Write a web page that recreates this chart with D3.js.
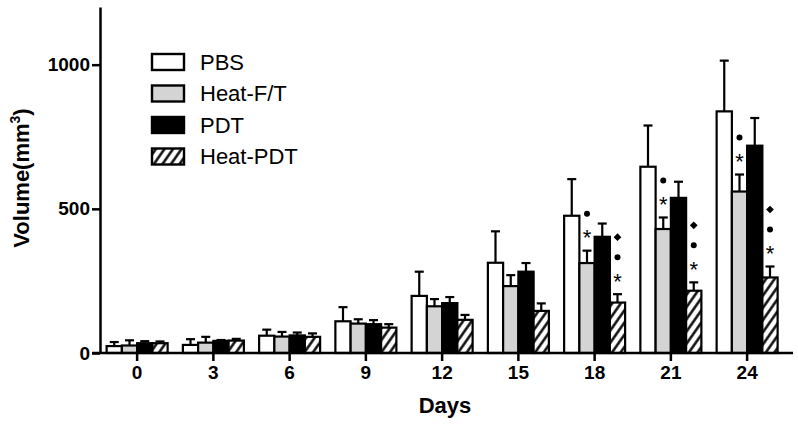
<!DOCTYPE html>
<html>
<head>
<meta charset="utf-8">
<script src="https://cdn.jsdelivr.net/npm/d3@7"></script>
<style>
  body { margin: 0; background: #fff; }
  svg { display: block; font-family: "Liberation Sans", Arial, sans-serif; }
</style>
</head>
<body>
<div id="chart"></div>
<script>
// data
const days = [0, 3, 6, 9, 12, 15, 18, 21, 24];
const seriesNames = ['PBS', 'Heat-F/T', 'PDT', 'Heat-PDT'];

const pbs = [24, 28, 60, 110, 198, 313, 476, 646, 838];
const pbsSem = [14, 20, 21, 49, 84, 109, 127, 143, 176];
const heatFT = [26, 36, 57, 102, 162, 232, 312, 430, 560];
const heatFTSem = [18, 20, 16, 15, 25, 38, 43, 40, 59];
const pdt = [34, 42, 61, 100, 173, 282, 403, 538, 719];
const pdtSem = [7, 3, 10, 14, 21, 30, 46, 56, 96];
const heatPDT = [34, 43, 56, 88, 115, 146, 175, 216, 262];
const heatPDTSem = [6, 6, 12, 12, 17, 26, 29, 29, 38];

const yTicks = [0, 500, 1000];

// significance marks, bottom to top
const marks = [
  { day: 18, group: 'Heat-F/T', symbols: ['*', 'dot'] },
  { day: 18, group: 'Heat-PDT', symbols: ['*', 'dot', 'diamond'] },
  { day: 21, group: 'Heat-F/T', symbols: ['*', 'dot'] },
  { day: 21, group: 'Heat-PDT', symbols: ['*', 'dot', 'diamond'] },
  { day: 24, group: 'Heat-F/T', symbols: ['*', 'dot'] },
  { day: 24, group: 'Heat-PDT', symbols: ['*', 'dot', 'diamond'] }
];

const means = { 'PBS': pbs, 'Heat-F/T': heatFT, 'PDT': pdt, 'Heat-PDT': heatPDT };
const sems = { 'PBS': pbsSem, 'Heat-F/T': heatFTSem, 'PDT': pdtSem, 'Heat-PDT': heatPDTSem };
const fills = { 'PBS': '#fff', 'Heat-F/T': '#d4d4d4', 'PDT': '#000', 'Heat-PDT': 'url(#hatch)' };

const width = 798, height = 424;

const svg = d3.select('#chart').append('svg')
  .attr('width', width)
  .attr('height', height);

const defs = svg.append('defs');
const pat = defs.append('pattern')
  .attr('id', 'hatch')
  .attr('patternUnits', 'userSpaceOnUse')
  .attr('width', 7)
  .attr('height', 7)
  .attr('patternTransform', 'rotate(35)');
pat.append('rect').attr('width', 7).attr('height', 7).attr('fill', '#fff');
pat.append('line')
  .attr('x1', 3.5).attr('y1', 0).attr('x2', 3.5).attr('y2', 7)
  .attr('stroke', '#000').attr('stroke-width', 2.4);

const x = d3.scaleBand()
  .domain(days)
  .range([99, 785.25])
  .paddingInner(0.2)
  .paddingOuter(0.1);

const xs = d3.scaleBand()
  .domain(seriesNames)
  .range([0, x.bandwidth()]);

const y = d3.scaleLinear()
  .domain([0, 1200])
  .range([353, 7]);

const rows = [];
days.forEach((d, i) => {
  seriesNames.forEach(s => {
    rows.push({ day: d, series: s, value: means[s][i], sem: sems[s][i] });
  });
});

// error bars (upward only)
const errG = svg.append('g')
  .attr('stroke', '#000')
  .attr('stroke-width', 2.2);
rows.forEach(r => {
  const cx = x(r.day) + xs(r.series) + xs.bandwidth() / 2;
  errG.append('line')
    .attr('x1', cx).attr('x2', cx)
    .attr('y1', y(r.value)).attr('y2', y(r.value + r.sem));
  errG.append('line')
    .attr('x1', cx - 4.5).attr('x2', cx + 4.5)
    .attr('y1', y(r.value + r.sem)).attr('y2', y(r.value + r.sem));
});

// bars
svg.append('g')
  .selectAll('rect')
  .data(rows)
  .join('rect')
  .attr('x', d => x(d.day) + xs(d.series))
  .attr('y', d => y(d.value))
  .attr('width', xs.bandwidth())
  .attr('height', d => y(0) - y(d.value))
  .attr('fill', d => fills[d.series])
  .attr('stroke', '#000')
  .attr('stroke-width', 2.2);

// significance symbols
const offsets = [18, 37, 57];
const markG = svg.append('g').attr('fill', '#000');
marks.forEach(m => {
  const i = days.indexOf(m.day);
  const cx = x(m.day) + xs(m.group) + xs.bandwidth() / 2;
  const top = y(means[m.group][i] + sems[m.group][i]);
  m.symbols.forEach((s, k) => {
    const cy = top - offsets[k];
    if (s === '*') {
      markG.append('text')
        .attr('x', cx).attr('y', cy + 12.5)
        .attr('text-anchor', 'middle')
        .attr('font-size', 22)
        .attr('fill', '#000')
        .text('*');
    } else if (s === 'dot') {
      markG.append('circle').attr('cx', cx).attr('cy', cy).attr('r', 3);
    } else {
      markG.append('path')
        .attr('d', d3.symbol(d3.symbolSquare, 30)())
        .attr('transform', `translate(${cx},${cy}) rotate(45)`);
    }
  });
});

// y axis
const yAxis = svg.append('g')
  .attr('transform', 'translate(100,0)')
  .call(d3.axisLeft(y).tickValues(yTicks).tickFormat(d3.format('d'))
    .tickSize(8).tickPadding(2).tickSizeOuter(0));
yAxis.selectAll('path, line').attr('stroke', '#000').attr('stroke-width', 2.5);
yAxis.selectAll('text')
  .attr('font-size', 19)
  .attr('font-weight', 'bold')
  .attr('font-family', '"Liberation Sans", Arial, sans-serif')
  .attr('fill', '#000');

// x axis
const xAxis = svg.append('g')
  .attr('transform', `translate(0,${y(0)})`)
  .call(d3.axisBottom(x).tickSize(8).tickPadding(5).tickSizeOuter(0));
xAxis.select('.domain').attr('d', 'M92,0H793');
xAxis.selectAll('path, line').attr('stroke', '#000').attr('stroke-width', 2.5);
xAxis.selectAll('text')
  .attr('font-size', 19)
  .attr('font-weight', 'bold')
  .attr('font-family', '"Liberation Sans", Arial, sans-serif')
  .attr('fill', '#000');

// axis titles
svg.append('text')
  .attr('x', 445).attr('y', 413)
  .attr('text-anchor', 'middle')
  .attr('font-size', 22)
  .attr('font-weight', 'bold')
  .text('Days');

const yTitle = svg.append('text')
  .attr('transform', 'translate(29,178) rotate(-90)')
  .attr('text-anchor', 'middle')
  .attr('font-size', 22)
  .attr('font-weight', 'bold');
yTitle.append('tspan').text('Volume(mm');
yTitle.append('tspan').attr('font-size', 14).attr('dy', -9).text('3');
yTitle.append('tspan').attr('dy', 9).text(')');

// legend
const legend = svg.append('g').attr('transform', 'translate(152,54)');
seriesNames.forEach((s, i) => {
  const row = legend.append('g').attr('transform', `translate(0,${i * 31.5})`);
  row.append('rect')
    .attr('width', 32).attr('height', 16)
    .attr('fill', fills[s])
    .attr('stroke', '#000')
    .attr('stroke-width', 2.4);
  row.append('text')
    .attr('x', 48).attr('y', 8)
    .attr('dy', '0.36em')
    .attr('font-size', 22)
    .text(s);
});
</script>
</body>
</html>
